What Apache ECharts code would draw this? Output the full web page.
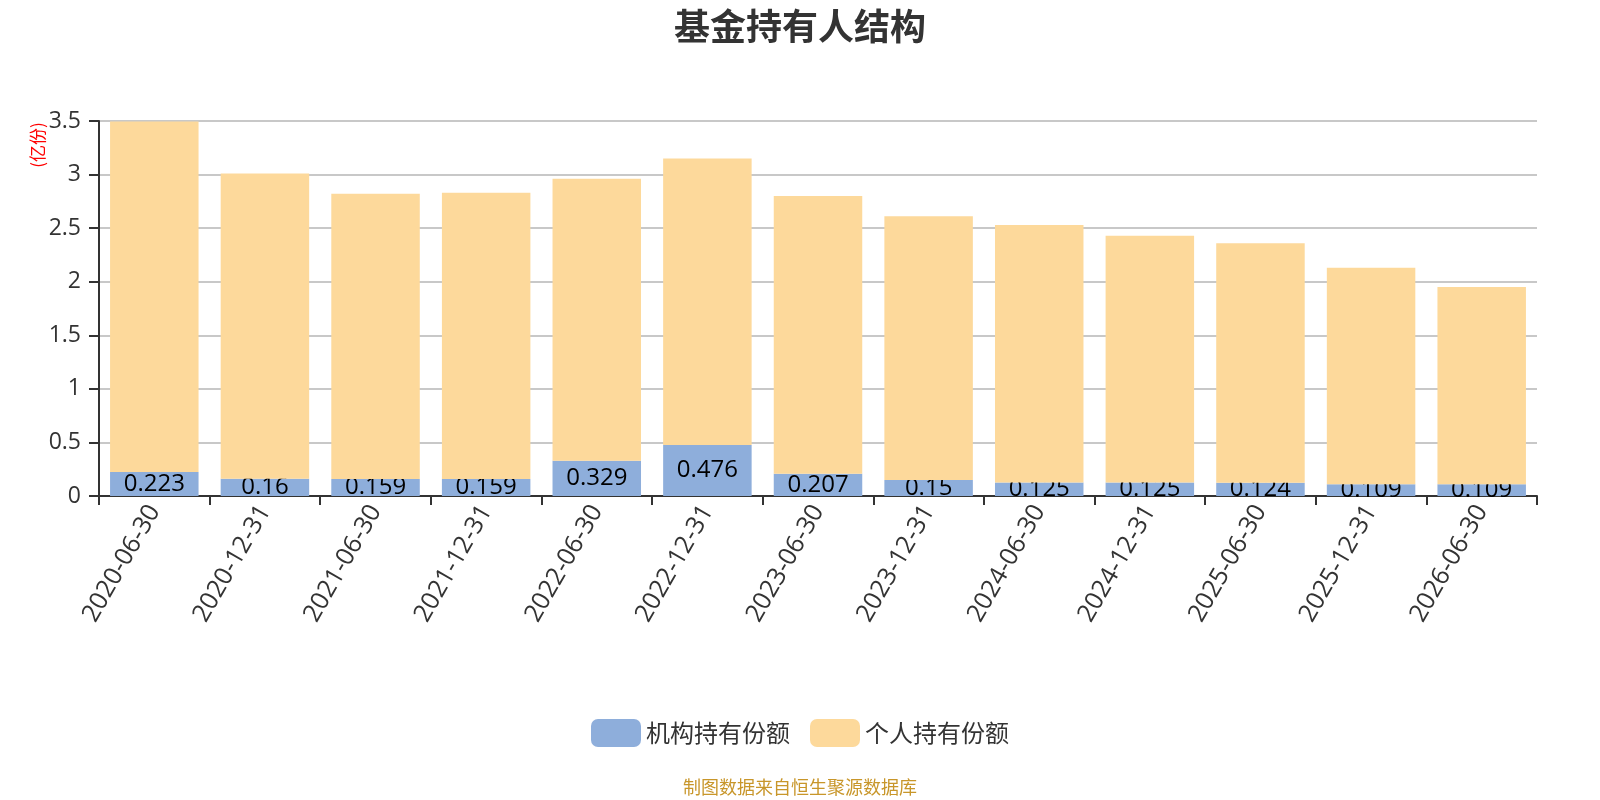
<!DOCTYPE html>
<html>
<head>
<meta charset="utf-8">
<title>基金持有人结构</title>
<script src="https://cdn.jsdelivr.net/npm/echarts@6/dist/echarts.min.js"></script>
<style>
  html, body { margin: 0; padding: 0; background: #fff; }
  #chart { width: 1600px; height: 800px; }
</style>
</head>
<body>
<div id="chart"></div>
<script>
// 报告期
var categories = ['2020-06-30', '2020-12-31', '2021-06-30', '2021-12-31', '2022-06-30',
    '2022-12-31', '2023-06-30', '2023-12-31', '2024-06-30', '2024-12-31',
    '2025-06-30', '2025-12-31', '2026-06-30'];

// 机构持有份额（亿份）
var orgShares = [0.223, 0.16, 0.159, 0.159, 0.329, 0.476, 0.207, 0.15, 0.125, 0.125, 0.124, 0.109, 0.109];

// 个人持有份额（亿份），从图上读的总高度减去机构部分
var personShares = [3.272, 2.85, 2.661, 2.671, 2.631, 2.674, 2.593, 2.46, 2.405, 2.305, 2.236, 2.021, 1.841];

var seriesNames = ['机构持有份额', '个人持有份额'];

var cjkFont = '"Noto Sans CJK SC", "Noto Sans", sans-serif';
var numFont = '"Open Sans", "Noto Sans CJK SC", sans-serif';

var myChart = echarts.init(document.getElementById('chart'));

var option = {
    backgroundColor: '#fff',
    textStyle: { fontFamily: cjkFont },
    title: {
        text: '基金持有人结构',
        left: 'center',
        top: 3,
        textStyle: { fontSize: 36, fontWeight: 'bold', color: '#333', fontFamily: cjkFont }
    },
    legend: {
        data: seriesNames,
        bottom: 48,
        left: 'center',
        icon: 'roundRect',
        itemWidth: 50,
        itemHeight: 28,
        itemGap: 20,
        textStyle: { fontSize: 24, color: '#333', fontFamily: cjkFont }
    },
    grid: {
        left: 99,
        right: 63,
        top: 121,
        bottom: 304,
        containLabel: false
    },
    xAxis: {
        type: 'category',
        data: categories,
        axisLine: { lineStyle: { color: '#333', width: 2 } },
        axisTick: { show: true, length: 9, lineStyle: { color: '#333', width: 2 } },
        axisLabel: {
            rotate: 60,
            interval: 0,
            fontSize: 25,
            color: '#333',
            margin: 11,
            fontFamily: numFont
        }
    },
    yAxis: {
        type: 'value',
        min: 0,
        max: 3.5,
        interval: 0.5,
        axisLine: { show: true, lineStyle: { color: '#333', width: 2 } },
        axisTick: { show: true, length: 10, lineStyle: { color: '#333', width: 2 } },
        axisLabel: { fontSize: 23, color: '#333', margin: 18, fontFamily: numFont },
        splitLine: { lineStyle: { color: '#c8c8c8', width: 2 } }
    },
    graphic: [
        {
            type: 'text',
            x: 38,
            y: 145,
            rotation: Math.PI / 2,
            style: {
                text: '(亿份)',
                fill: '#ff0000',
                fontSize: 17,
                align: 'center',
                verticalAlign: 'middle',
                fontFamily: cjkFont
            }
        },
        {
            type: 'text',
            left: 'center',
            bottom: 4,
            style: {
                text: '制图数据来自恒生聚源数据库',
                fill: '#c8962a',
                fontSize: 18,
                fontFamily: cjkFont
            }
        }
    ],
    series: [
        {
            name: seriesNames[0],
            type: 'bar',
            stack: 'total',
            barCategoryGap: '20%',
            z: 2,
            itemStyle: { color: '#8eaedb' },
            label: {
                show: true,
                position: 'inside',
                color: '#000',
                fontSize: 24,
                fontFamily: numFont
            },
            data: orgShares
        },
        {
            name: seriesNames[1],
            type: 'bar',
            stack: 'total',
            barCategoryGap: '20%',
            z: 3,
            itemStyle: { color: '#fdd99b' },
            data: personShares
        }
    ]
};

myChart.setOption(option);
</script>
</body>
</html>
